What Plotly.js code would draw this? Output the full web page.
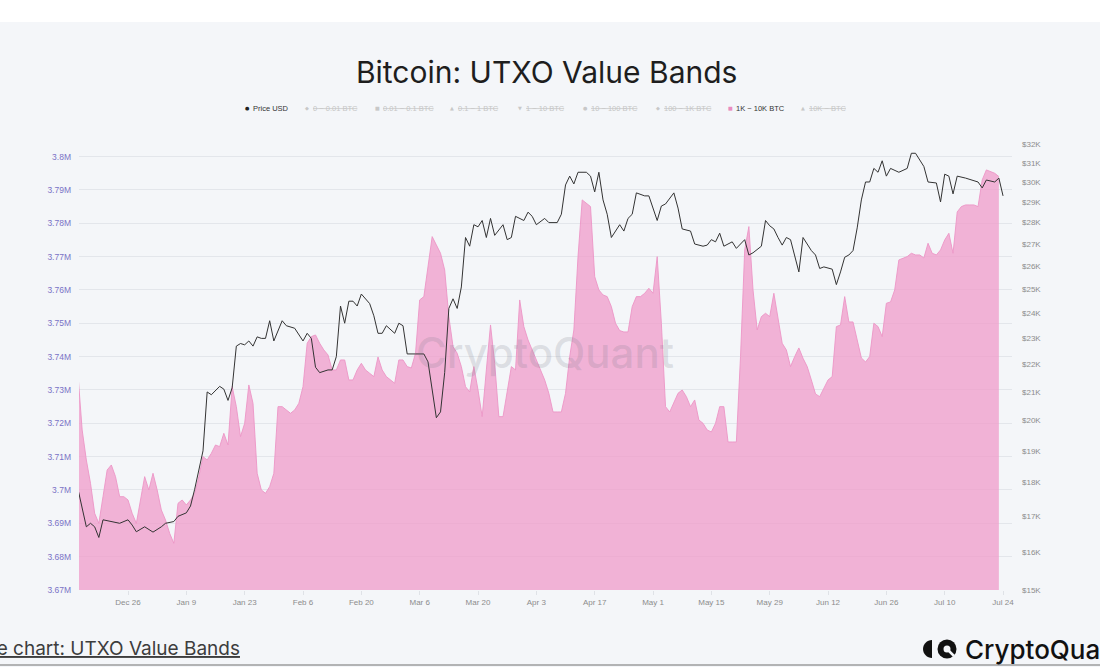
<!DOCTYPE html>
<html>
<head>
<meta charset="utf-8">
<script src="https://cdn.plot.ly/plotly-3.0.1.min.js"></script>
<style>
html, body { margin: 0; padding: 0; background: #f4f6f9; }
#chart { width: 1100px; height: 667px; }
</style>
</head>
<body>
<div id="chart"></div>
<script>
// ---- data -------------------------------------------------------------
// Daily supply held in the 1K ~ 10K BTC band (millions BTC), day 0 = 2022-12-14
const bandValues = [
  3.7345, 3.718, 3.709, 3.702, 3.693, 3.690, 3.698, 3.706, 3.7075, 3.704,
  3.698, 3.698, 3.697, 3.693, 3.690, 3.6975, 3.704, 3.700, 3.705, 3.700,
  3.694, 3.691, 3.687, 3.684, 3.696, 3.697, 3.6955, 3.697, 3.699, 3.704,
  3.710, 3.709, 3.711, 3.7135, 3.713, 3.717, 3.7135, 3.731, 3.725, 3.716,
  3.720, 3.7315, 3.726, 3.705, 3.700, 3.699, 3.701, 3.705, 3.725, 3.725,
  3.724, 3.723, 3.724, 3.726, 3.731, 3.744, 3.746, 3.7465, 3.744, 3.742,
  3.7405, 3.736, 3.736, 3.739, 3.739, 3.733, 3.733, 3.736, 3.738, 3.736,
  3.735, 3.734, 3.7399, 3.736, 3.734, 3.733, 3.732, 3.739, 3.739, 3.737,
  3.7366, 3.741, 3.757, 3.758, 3.767, 3.776, 3.7735, 3.771, 3.766, 3.752,
  3.743, 3.741, 3.737, 3.731, 3.7294, 3.737, 3.730, 3.722, 3.736, 3.7495,
  3.738, 3.722, 3.722, 3.730, 3.737, 3.736, 3.757, 3.749, 3.745, 3.742,
  3.739, 3.736, 3.733, 3.729, 3.7234, 3.7234, 3.7234, 3.729, 3.740, 3.748,
  3.770, 3.787, 3.786, 3.785, 3.764, 3.760, 3.7585, 3.758, 3.755, 3.750,
  3.7478, 3.7474, 3.7474, 3.755, 3.758, 3.758, 3.759, 3.7605, 3.759, 3.770,
  3.750, 3.725, 3.7234, 3.726, 3.729, 3.730, 3.728, 3.725, 3.727, 3.721,
  3.720, 3.718, 3.7174, 3.720, 3.725, 3.725, 3.7144, 3.7144, 3.7144, 3.740,
  3.772, 3.779, 3.760, 3.748, 3.752, 3.753, 3.752, 3.759, 3.752, 3.744,
  3.742, 3.737, 3.740, 3.7426, 3.7395, 3.737, 3.733, 3.7288, 3.728, 3.7306,
  3.733, 3.734, 3.749, 3.7495, 3.758, 3.7504, 3.7504, 3.745, 3.7396, 3.7384,
  3.740, 3.750, 3.749, 3.746, 3.756, 3.7564, 3.760, 3.769, 3.7695, 3.770,
  3.771, 3.7705, 3.7705, 3.7696, 3.774, 3.771, 3.7705, 3.772, 3.775, 3.777,
  3.771, 3.7834, 3.785, 3.7855, 3.7855, 3.7855, 3.785, 3.793, 3.796, 3.7955,
  3.795, 3.794
];

// Bitcoin price in USD, by day offset from 2022-12-14
const priceDays = [
  0, 2, 3, 4, 5, 6, 10, 12, 13, 14, 16, 18, 20, 21, 23, 24, 26, 27, 28, 30,
  31, 32, 34, 35, 36, 37, 38, 39, 40, 41, 42, 43, 44, 45, 46, 47, 49, 50, 52, 54,
  55, 56, 57, 58, 60, 61, 62, 63, 64, 65, 66, 67, 68, 70, 71, 72, 73, 74, 76, 77,
  78, 79, 81, 83, 84, 85, 86, 87, 88, 89, 90, 91, 92, 93, 94, 95, 96, 97, 98, 99,
  100, 102, 103, 104, 105, 107, 108, 109, 110, 112, 113, 115, 116, 117, 118, 119, 120, 122, 123, 124,
  125, 126, 127, 128, 130, 131, 132, 133, 134, 136, 137, 139, 140, 141, 143, 144, 145, 147, 148, 150,
  151, 152, 153, 154, 155, 157, 158, 159, 160, 161, 162, 164, 165, 166, 167, 168, 169, 170, 171, 173,
  174, 176, 177, 178, 179, 181, 182, 183, 184, 185, 186, 187, 188, 189, 190, 191, 192, 193, 194, 195,
  197, 199, 200, 201, 203, 204, 206, 207, 208, 209, 210, 211, 213, 216, 217, 218, 220, 221, 222
];
const priceUsd = [
  17800, 16700, 16800, 16700, 16400, 16900, 16800, 16900, 16750, 16560, 16700, 16550, 16700, 16800, 16850, 17000, 17100, 17300, 17800, 19000,
  21000, 20900, 21200, 21100, 20700, 21150, 22700, 22800, 22750, 22900, 22700, 23060, 23000, 23000, 23700, 22900, 23700, 23500, 23400, 22900,
  23200, 23000, 21900, 21700, 21800, 21800, 22300, 24300, 23600, 24500, 24500, 24300, 24800, 24400, 23900, 23200, 23200, 23500, 23200, 23600,
  23500, 22400, 22400, 22400, 22100, 21000, 20100, 20300, 21700, 24200, 24600, 24200, 25100, 27300, 26900, 27900, 27800, 28100, 27300, 28200,
  27400, 27900, 27200, 27300, 28300, 28100, 28500, 28300, 27900, 28200, 28000, 28000, 28400, 29850, 30300, 29900, 30500, 30500, 30300, 29500,
  30500, 29100, 28400, 27300, 27900, 27600, 28200, 28400, 29450, 29300, 29300, 28100, 28800, 28900, 29450, 28700, 27700, 27600, 27000, 26900,
  26950, 27200, 27100, 27500, 26900, 27100, 26800, 27000, 27200, 26500, 26600, 26900, 28100, 27850, 27700, 27300, 26950, 27300, 27200, 25750,
  27300, 26700, 26500, 25900, 25970, 25870, 25200, 25750, 26400, 26500, 26700, 27750, 29100, 30000, 30000, 30700, 30500, 31100, 30300, 30700,
  30500, 30700, 31500, 31500, 30800, 30000, 29950, 29000, 30400, 30300, 29400, 30300, 30200, 30000, 29700, 30100, 30000, 30200, 29300
];

// Axis ticks
const supplyTicks = [3.67, 3.68, 3.69, 3.70, 3.71, 3.72, 3.73, 3.74, 3.75, 3.76, 3.77, 3.78, 3.79, 3.80];
const supplyTickText = ['3.67M', '3.68M', '3.69M', '3.7M', '3.71M', '3.72M', '3.73M', '3.74M', '3.75M', '3.76M', '3.77M', '3.78M', '3.79M', '3.8M'];
const priceTicks = [15000, 16000, 17000, 18000, 19000, 20000, 21000, 22000, 23000, 24000, 25000, 26000, 27000, 28000, 29000, 30000, 31000, 32000];
const priceTickText = ['$15K', '$16K', '$17K', '$18K', '$19K', '$20K', '$21K', '$22K', '$23K', '$24K', '$25K', '$26K', '$27K', '$28K', '$29K', '$30K', '$31K', '$32K'];

// Legend entries (series of the UTXO Value Bands chart)
const seriesNames = ['Price USD', '0 ~ 0.01 BTC', '0.01 ~ 0.1 BTC', '0.1 ~ 1 BTC', '1 ~ 10 BTC', '10 ~ 100 BTC', '100 ~ 1K BTC', '1K ~ 10K BTC', '10K ~ BTC'];
const seriesShown = [true, false, false, false, false, false, false, true, false];
const seriesSymbols = ['●', '◆', '■', '▲', '▼', '●', '◆', '■', '▲'];

// ---- geometry helpers ---------------------------------------------------
const W = 1100, H = 667;
const M = { l: 79, r: 88, t: 144, b: 77 };
const PW = W - M.l - M.r, PH = H - M.t - M.b;
const px = x => (x - M.l) / PW;
const py = y => (H - M.b - y) / PH;

const startMs = Date.UTC(2022, 11, 14);
const toDate = d => new Date(startMs + d * 864e5).toISOString().slice(0, 10);
const toStamp = d => new Date(startMs + d * 864e5).toISOString().replace('T', ' ').slice(0, 19);

const bandDates = bandValues.map((_, i) => toDate(i));
const priceDates = priceDays.map(toDate);

// ---- traces -------------------------------------------------------------
const bandTrace = {
  x: bandDates,
  y: bandValues,
  type: 'scatter',
  mode: 'lines',
  fill: 'tozeroy',
  fillcolor: 'rgba(240,155,202,0.75)',
  line: { color: 'rgba(236,150,198,0.9)', width: 1 },
  hoverinfo: 'skip',
  name: seriesNames[7]
};

const priceTrace = {
  x: priceDates,
  y: priceUsd,
  yaxis: 'y2',
  type: 'scatter',
  mode: 'lines',
  line: { color: '#333333', width: 1 },
  hoverinfo: 'skip',
  name: seriesNames[0]
};

// ---- legend / decoration annotations ------------------------------------
const tickFont = { family: 'Liberation Sans, Arial, sans-serif', size: 8 };
const legendX = [247, 307, 377, 452, 520, 585, 658, 730, 803];
const legendY = 108;
const annotations = [];
seriesNames.forEach((name, i) => {
  const on = seriesShown[i];
  const symColor = on ? (i === 7 ? '#e98cc0' : '#222') : '#c8c8c8';
  annotations.push({
    xref: 'paper', yref: 'paper', x: px(legendX[i]), y: py(legendY),
    xanchor: 'center', yanchor: 'middle', showarrow: false,
    text: seriesSymbols[i],
    font: { family: 'DejaVu Sans, sans-serif', size: 5, color: symColor }
  });
  annotations.push({
    xref: 'paper', yref: 'paper', x: px(legendX[i] + 4), y: py(legendY),
    xanchor: 'left', yanchor: 'middle', showarrow: false,
    text: name,
    font: on
      ? { family: 'Liberation Sans, Arial, sans-serif', size: 7.5, color: '#333' }
      : { family: 'Liberation Sans, Arial, sans-serif', size: 7.5, color: '#c6c6c6', lineposition: 'through' }
  });
});

// watermark
annotations.push({
  xref: 'paper', yref: 'paper', x: px(545), y: py(352),
  xanchor: 'center', yanchor: 'middle', showarrow: false,
  text: 'CryptoQuant',
  font: { family: 'Inter, sans-serif', size: 42, weight: 500, color: 'rgba(120,120,135,0.2)' }
});

// link text at bottom-left
annotations.push({
  xref: 'paper', yref: 'paper', x: px(242), y: py(648),
  xanchor: 'right', yanchor: 'middle', showarrow: false,
  text: 'Live chart: UTXO Value Bands',
  font: { family: 'Inter, sans-serif', size: 19, color: '#3d3d3d', lineposition: 'under' }
});

// brand name at bottom-right
annotations.push({
  xref: 'paper', yref: 'paper', x: px(963), y: py(649),
  xanchor: 'left', yanchor: 'middle', showarrow: false,
  text: 'CryptoQuant',
  font: { family: 'Inter, sans-serif', size: 26, weight: 500, color: '#111' }
});

// ---- shapes -------------------------------------------------------------
const k = 0.5523;
const ptsPath = cmds => cmds.map(c => c[0] + c.slice(1).map(p => px(p[0]) + ',' + py(p[1])).join(' ')).join(' ');
// left half-disc of the logo
const lcx = 932, lcy = 649, lr = 9;
const halfDisc = ptsPath([
  ['M', [lcx, lcy - lr]],
  ['C', [lcx - lr * k, lcy - lr], [lcx - lr, lcy - lr * k], [lcx - lr, lcy]],
  ['C', [lcx - lr, lcy + lr * k], [lcx - lr * k, lcy + lr], [lcx, lcy + lr]],
  ['Z']
]);
const rcx = 947, rcy = 649, rr = 9.5;

const shapes = [
  // white strip along the top
  { type: 'rect', xref: 'paper', yref: 'paper', x0: px(0), x1: px(W), y0: py(0), y1: py(22),
    fillcolor: '#ffffff', line: { width: 0 }, layer: 'below' },
  // bottom border
  { type: 'line', xref: 'paper', yref: 'paper', x0: px(0), x1: px(W), y0: py(665), y1: py(665),
    line: { color: '#9c9c9c', width: 1.5 } },
  // logo
  { type: 'path', xref: 'paper', yref: 'paper', path: halfDisc, fillcolor: '#111', line: { width: 0 } },
  { type: 'circle', xref: 'paper', yref: 'paper', x0: px(rcx - rr), x1: px(rcx + rr), y0: py(rcy + rr), y1: py(rcy - rr),
    fillcolor: '#111', line: { width: 0 } },
  { type: 'circle', xref: 'paper', yref: 'paper', x0: px(rcx - 3.5), x1: px(rcx + 3.5), y0: py(rcy + 3.5), y1: py(rcy - 3.5),
    fillcolor: '#f4f6f9', line: { width: 0 } },
  { type: 'line', xref: 'paper', yref: 'paper', x0: px(rcx + 1), x1: px(rcx + 7), y0: py(rcy + 1), y1: py(rcy + 7),
    line: { color: '#f4f6f9', width: 2.5 } }
];

// ---- layout -------------------------------------------------------------
const layout = {
  width: W, height: H,
  margin: M,
  paper_bgcolor: '#f4f6f9',
  plot_bgcolor: '#f4f6f9',
  showlegend: false,
  title: {
    text: 'Bitcoin: UTXO Value Bands',
    x: 0.497, xanchor: 'center', xref: 'container',
    y: 1 - 72 / H, yanchor: 'middle', yref: 'container',
    font: { family: 'Inter, sans-serif', size: 30, color: '#1e1e1e' }
  },
  xaxis: {
    type: 'date',
    range: [toStamp(0.24), toStamp(224.15)],
    tick0: '2022-12-26',
    dtick: 14 * 864e5,
    tickformat: '%b %-d',
    tickfont: Object.assign({}, tickFont, { color: '#8c8c8c' }),
    ticks: 'outside', ticklen: 4, tickcolor: '#dfe2e7',
    showgrid: false, zeroline: false, showline: false,
    fixedrange: true
  },
  yaxis: {
    range: [3.67, 3.67 + PH / 3334],
    tickvals: supplyTicks,
    ticktext: supplyTickText,
    tickfont: Object.assign({}, tickFont, { color: '#7a72c6', size: 8.5 }),
    ticklabelstandoff: 7,
    gridcolor: '#e3e6eb', gridwidth: 1,
    zeroline: false, showline: false,
    fixedrange: true
  },
  yaxis2: {
    type: 'log',
    overlaying: 'y',
    side: 'right',
    range: [Math.log10(15000), Math.log10(32000)],
    tickvals: priceTicks,
    ticktext: priceTickText,
    tickfont: Object.assign({}, tickFont, { color: '#8c8c8c' }),
    ticklabelstandoff: 9,
    showgrid: false, zeroline: false, showline: false,
    fixedrange: true
  },
  annotations: annotations,
  shapes: shapes
};

Plotly.newPlot('chart', [bandTrace, priceTrace], layout, { displayModeBar: false, staticPlot: true });
</script>
</body>
</html>
